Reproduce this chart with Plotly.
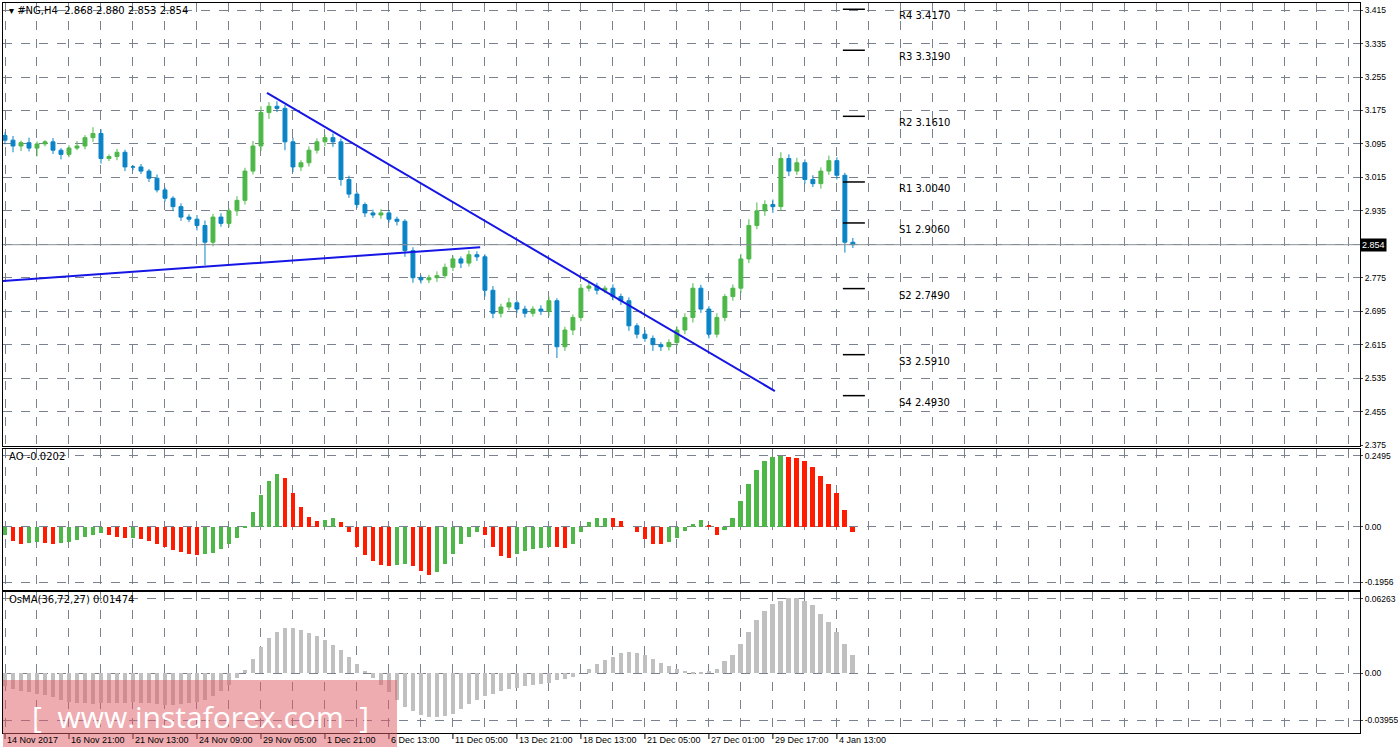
import plotly.graph_objects as go
from plotly.subplots import make_subplots

closes = [3.104,3.090,3.098,3.085,3.095,3.100,3.080,3.070,3.085,3.090,
          3.110,3.120,3.060,3.065,3.075,3.040,3.040,3.030,3.013,2.985,
          2.965,2.945,2.920,2.915,2.900,2.860,2.920,2.905,2.935,2.960,
          3.030,3.090,3.170,3.185,3.180,3.100,3.040,3.050,3.080,3.100,
          3.110,3.100,3.010,2.975,2.950,2.930,2.925,2.930,2.915,2.910,
          2.840,2.775,2.770,2.775,2.780,2.800,2.820,2.810,2.830,2.825,
          2.745,2.690,2.705,2.715,2.700,2.690,2.700,2.695,2.720,2.610,
          2.650,2.680,2.750,2.755,2.745,2.750,2.730,2.720,2.660,2.640,
          2.630,2.615,2.610,2.620,2.650,2.680,2.750,2.700,2.640,2.680,
          2.730,2.750,2.820,2.900,2.935,2.950,2.945,3.060,3.030,3.050,
          3.010,3.000,3.030,3.055,3.020,2.860,2.854]
first_open = 3.115
wick_up = [8,10,5,12,6,4,9,5,7,12,6,15,10,5,8,6,4,7,5,9,
           6,5,8,7,10,12,8,9,6,10,8,12,15,10,12,8,10,6,9,8,
           7,10,8,9,6,5,8,9,7,6,5,8,6,7,10,9,8,6,10,8,
           6,10,8,12,6,8,7,9,10,6,8,7,10,12,8,6,9,7,8,6,
           10,7,6,8,9,10,12,8,7,10,6,9,12,15,20,10,12,15,10,12,
           8,10,9,12,8,6,10]
wick_dn = [10,15,12,8,20,6,9,12,7,5,8,10,12,6,9,10,8,7,9,6,
           8,10,9,7,12,55,10,8,9,12,10,8,12,15,9,20,12,10,9,8,
           10,12,15,9,8,10,7,9,8,10,15,12,9,8,10,7,9,12,8,10,
           15,12,10,8,9,10,8,9,12,27,10,12,9,8,10,7,9,10,12,10,
           8,15,10,9,8,10,12,9,10,8,9,10,12,10,9,12,15,10,12,9,
           10,8,12,9,10,25,8]
ao = [-0.030,-0.050,-0.060,-0.058,-0.055,-0.058,-0.060,-0.058,-0.055,-0.048,
      -0.035,-0.028,-0.022,-0.028,-0.035,-0.040,-0.040,-0.042,-0.050,-0.062,
      -0.072,-0.082,-0.090,-0.095,-0.100,-0.098,-0.092,-0.080,-0.060,-0.040,
      -0.005,0.050,0.110,0.160,0.185,0.170,0.120,0.070,0.035,0.020,
      0.025,0.030,0.015,-0.020,-0.070,-0.100,-0.120,-0.135,-0.140,-0.135,
      -0.130,-0.140,-0.155,-0.170,-0.160,-0.130,-0.095,-0.060,-0.035,-0.020,
      -0.030,-0.070,-0.105,-0.110,-0.095,-0.085,-0.080,-0.075,-0.070,-0.072,
      -0.075,-0.060,-0.020,0.015,0.030,0.032,0.030,0.020,0.000,-0.020,
      -0.045,-0.060,-0.062,-0.055,-0.040,-0.015,0.010,0.025,0.005,-0.030,
      -0.010,0.030,0.090,0.150,0.200,0.230,0.245,0.248,0.245,0.240,
      0.230,0.210,0.180,0.150,0.120,0.060,-0.020]
osma = [-0.011,-0.013,-0.015,-0.016,-0.017,-0.018,-0.020,-0.022,-0.024,-0.025,
        -0.025,-0.026,-0.025,-0.025,-0.025,-0.025,-0.024,-0.025,-0.025,-0.026,
        -0.027,-0.027,-0.026,-0.025,-0.024,-0.022,-0.019,-0.015,-0.010,-0.004,
        0.003,0.012,0.022,0.030,0.035,0.038,0.038,0.036,0.034,0.031,
        0.028,0.024,0.020,0.014,0.008,0.002,-0.004,-0.010,-0.016,-0.022,
        -0.028,-0.032,-0.035,-0.037,-0.037,-0.036,-0.034,-0.030,-0.026,-0.022,
        -0.019,-0.017,-0.015,-0.013,-0.012,-0.011,-0.010,-0.009,-0.008,-0.006,
        -0.005,-0.003,0.000,0.004,0.008,0.011,0.014,0.017,0.018,0.017,
        0.015,0.012,0.009,0.006,0.004,0.002,0.001,0.001,0.002,0.004,
        0.010,0.015,0.025,0.035,0.045,0.052,0.058,0.061,0.063,0.063,
        0.061,0.057,0.050,0.043,0.035,0.025,0.015]
date_labels = ["14 Nov 2017","16 Nov 21:00","21 Nov 13:00","24 Nov 09:00","29 Nov 05:00",
               "1 Dec 21:00","6 Dec 13:00","11 Dec 05:00","13 Dec 21:00","18 Dec 13:00",
               "21 Dec 05:00","27 Dec 01:00","29 Dec 17:00","4 Jan 13:00"]
pivot_names = ["R4","R3","R2","R1","S1","S2","S3","S4"]
pivot_values = [3.417,3.319,3.161,3.004,2.906,2.749,2.591,2.493]
trend1 = {"x": [32.75, 96.25], "y": [3.217, 2.504]}
trend2 = {"x": [-0.25, 59.4], "y": [2.767, 2.848]}
last_price = 2.854
price_ticks = [3.415,3.335,3.255,3.175,3.095,3.015,2.935,2.855,2.775,2.695,2.615,2.535,2.455,2.375]

n = len(closes)
idx = list(range(n))
opens = [first_open] + closes[:-1]
highs = [max(o, c) + w / 1000 for o, c, w in zip(opens, closes, wick_up)]
lows = [min(o, c) - w / 1000 for o, c, w in zip(opens, closes, wick_dn)]
GREEN, BLUE = "#4DB848", "#0A84C6"

H, W = 750, 1398
mt, mb, ml, mr = 3, 16, 3, 38
ph = H - mt - mb
pw = W - ml - mr
def dom(y0, y1):
    return [(H - mb - y1) / ph, (H - mb - y0) / ph]

fig = make_subplots(rows=3, cols=1, shared_xaxes=True, vertical_spacing=0)
fig.add_trace(go.Candlestick(x=idx, open=opens, high=highs, low=lows, close=closes,
    increasing=dict(line=dict(color=GREEN, width=1), fillcolor=GREEN),
    decreasing=dict(line=dict(color=BLUE, width=1), fillcolor=BLUE),
    whiskerwidth=0, showlegend=False), row=1, col=1)
fig.add_trace(go.Scatter(x=[-0.25, 170], y=[last_price]*2, mode="lines",
    line=dict(color="#8a8f99", width=1), showlegend=False), row=1, col=1)
for t in (trend1, trend2):
    fig.add_trace(go.Scatter(x=t["x"], y=t["y"], mode="lines",
        line=dict(color="#1515E6", width=2), showlegend=False), row=1, col=1)
for nm, v in zip(pivot_names, pivot_values):
    fig.add_trace(go.Scatter(x=[104.75, 107.5], y=[v, v], mode="lines",
        line=dict(color="black", width=1.5), showlegend=False), row=1, col=1)
    fig.add_annotation(x=111.5, y=v, text=f"{nm} {v:.4f}", showarrow=False, xanchor="left",
        yanchor="top", yshift=1, font=dict(size=10, color="black"), xref="x", yref="y")

ao_col = [GREEN if i == 0 or ao[i] >= ao[i-1] else "#FF1A00" for i in range(n)]
fig.add_trace(go.Bar(x=idx, y=ao, marker=dict(color=ao_col, line=dict(width=0)),
    width=0.6, showlegend=False), row=2, col=1)
fig.add_trace(go.Bar(x=idx, y=osma, marker=dict(color="#C0C0C0", line=dict(width=0)),
    width=0.6, showlegend=False), row=3, col=1)

grid = dict(showgrid=True, gridcolor="#7A8290", griddash="dash", gridwidth=1)
xr = [-0.25, 169.4]
for r in (1, 2, 3):
    fig.update_xaxes(range=xr, tickvals=list(range(0, 170, 4)), showticklabels=False,
        showline=True, linecolor="black", mirror=True, rangeslider_visible=False,
        zeroline=False, automargin=False, **grid, row=r, col=1)
fig.update_yaxes(side="right", range=[2.3726, 3.432], tickvals=price_ticks,
    ticktext=[f"{v:.3f}" for v in price_ticks], row=1, col=1)
fig.update_yaxes(side="right", range=[-0.223, 0.2734], tickvals=[0.2495, 0.0, -0.1956],
    ticktext=["0.2495", "0.00", "-0.1956"], row=2, col=1)
fig.update_yaxes(side="right", range=[-0.0501, 0.0683], tickvals=[0.06263, 0.0, -0.03955],
    ticktext=["0.06263", "0.00", "-0.03955"], row=3, col=1)
fig.update_yaxes(showline=True, linecolor="black", mirror=True, zeroline=False,
    ticks="outside", ticklen=2, tickfont=dict(size=8.5, family="Liberation Sans"),
    automargin=False, **grid)

fig.update_layout(
    width=W, height=H, margin=dict(l=ml, r=mr, t=mt, b=mb, autoexpand=False),
    paper_bgcolor="white", plot_bgcolor="white", bargap=0,
    font=dict(family="DejaVu Sans", size=10, color="black"),
    yaxis=dict(domain=dom(3, 446)), yaxis2=dict(domain=dom(449, 590)),
    yaxis3=dict(domain=dom(592, 733)),
)
for k, lab in enumerate(date_labels):
    fig.add_annotation(x=8 * k, y=0, xref="x3", yref="paper", yshift=1, text=lab,
        showarrow=False, xanchor="left", yanchor="top", font=dict(size=9, family="Liberation Sans"))
    fig.add_shape(type="line", x0=8*k, x1=8*k, y0=0, y1=-5/ph, xref="x3", yref="paper",
        line=dict(color="black", width=1))
fig.add_annotation(x=1.0, y=last_price, xref="paper", yref="y", xanchor="left", text="2.854",
    showarrow=False, bgcolor="black", font=dict(size=9, color="white", family="Liberation Sans"),
    borderpad=1)
fig.add_annotation(x=0.003, y=1, xref="paper", yref="paper", xanchor="left", yanchor="top",
    text="▾ #NG,H4  2.868 2.880 2.853 2.854", showarrow=False, font=dict(size=10))
fig.add_annotation(x=0.003, y=dom(449, 590)[1], xref="paper", yref="paper", xanchor="left",
    yanchor="top", text="AO -0.0202", showarrow=False, font=dict(size=10))
fig.add_annotation(x=0.003, y=dom(592, 733)[1], xref="paper", yref="paper", xanchor="left",
    yanchor="top", text="OsMA(36,72,27) 0.01474", showarrow=False, font=dict(size=10))
fig.add_shape(type="rect", xref="paper", yref="paper", x0=0.0, x1=(397-ml)/pw,
    y0=(H-mb-747)/ph, y1=(H-mb-680)/ph, fillcolor="rgba(222,90,100,0.5)", line=dict(width=0))
fig.add_annotation(x=(200-ml)/pw, y=(H-mb-716)/ph, xref="paper", yref="paper",
    xanchor="center", yanchor="middle",
    text="[  www.instaforex.com  ]", showarrow=False,
    font=dict(size=30, color="white", family="Open Sans"))

fig.write_html("out.html", post_script="document.body.style.margin='0';",
               config={"displayModeBar": False})
